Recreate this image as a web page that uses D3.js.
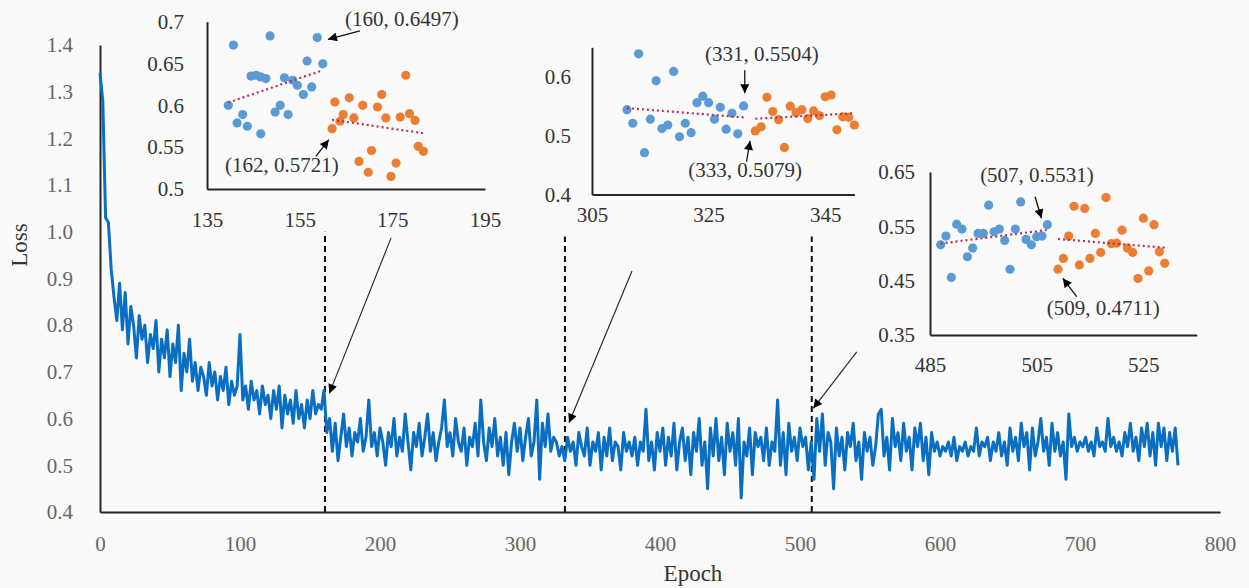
<!DOCTYPE html>
<html>
<head>
<meta charset="utf-8">
<script src="https://cdn.jsdelivr.net/npm/d3@7"></script>
<style>
  html, body { margin: 0; padding: 0; background: #fafafa; }
  svg { display: block; }
  text { font-family: "Liberation Serif", "Times New Roman", serif; }
</style>
</head>
<body>
<svg id="chart" width="1249" height="588"></svg>
<script>
// ---------------- DATA ----------------
// Main training loss, one value every 2 epochs (epoch 0 .. 770)
const lossStep = 2;
const lossValues = [
  1.34, 1.28, 1.03, 1.02, 0.92, 0.86, 0.81, 0.89, 0.79, 0.87,
  0.76, 0.84, 0.80, 0.73, 0.82, 0.77, 0.80, 0.72, 0.78, 0.75,
  0.81, 0.70, 0.77, 0.73, 0.79, 0.69, 0.76, 0.72, 0.80, 0.66,
  0.74, 0.70, 0.77, 0.68, 0.72, 0.66, 0.71, 0.69, 0.65, 0.72,
  0.67, 0.70, 0.64, 0.69, 0.66, 0.71, 0.63, 0.68, 0.65, 0.67,
  0.78, 0.64, 0.67, 0.62, 0.68, 0.64, 0.66, 0.61, 0.67, 0.63,
  0.65, 0.60, 0.66, 0.62, 0.67, 0.58, 0.65, 0.61, 0.64, 0.59,
  0.66, 0.60, 0.63, 0.58, 0.64, 0.60, 0.66, 0.61, 0.63, 0.62,
  0.66,
  0.57, 0.60, 0.53, 0.59, 0.51, 0.56, 0.61, 0.54, 0.58, 0.52,
  0.57, 0.55, 0.60, 0.53, 0.56, 0.64, 0.54, 0.57, 0.52, 0.58,
  0.55, 0.50, 0.57, 0.54, 0.60, 0.52, 0.56, 0.53, 0.61, 0.55,
  0.49, 0.57, 0.54, 0.59, 0.52, 0.56, 0.61, 0.53, 0.57, 0.51,
  0.55, 0.58, 0.64, 0.54, 0.57, 0.52, 0.60, 0.55, 0.53, 0.58,
  0.50, 0.56, 0.54, 0.59, 0.52, 0.64, 0.55, 0.51, 0.58, 0.54,
  0.60, 0.52, 0.56, 0.50, 0.57, 0.48, 0.55, 0.59, 0.53, 0.58,
  0.51, 0.56, 0.60, 0.52, 0.55, 0.64, 0.47, 0.59, 0.54, 0.61,
  0.53, 0.56, 0.55, 0.52, 0.54,
  0.51, 0.56, 0.53, 0.55, 0.50, 0.57, 0.54, 0.52, 0.58, 0.50,
  0.55, 0.53, 0.57, 0.49, 0.56, 0.52, 0.58, 0.51, 0.55, 0.54,
  0.49, 0.57, 0.53, 0.55, 0.52, 0.56, 0.50, 0.55, 0.53, 0.62,
  0.51, 0.55, 0.49, 0.57, 0.53, 0.58, 0.50, 0.56, 0.52, 0.59,
  0.49, 0.55, 0.58, 0.51, 0.56, 0.48, 0.57, 0.53, 0.60, 0.50,
  0.55, 0.45, 0.58, 0.52, 0.60, 0.51, 0.56, 0.48, 0.59, 0.53,
  0.57, 0.50, 0.60, 0.43, 0.55, 0.52, 0.58, 0.48, 0.57, 0.54,
  0.56, 0.51, 0.58, 0.50, 0.55, 0.53, 0.64, 0.50, 0.57, 0.48,
  0.59, 0.53, 0.56, 0.51, 0.58, 0.54, 0.56, 0.49, 0.55, 0.47,
  0.60, 0.53, 0.61, 0.50, 0.57, 0.55, 0.45, 0.58, 0.52, 0.56,
  0.49, 0.57, 0.54, 0.59, 0.51, 0.55, 0.47, 0.57, 0.53, 0.56,
  0.50, 0.54, 0.61, 0.62, 0.52, 0.56, 0.49, 0.60, 0.54, 0.57,
  0.51, 0.59, 0.53, 0.56, 0.49, 0.58, 0.54, 0.59, 0.51, 0.56,
  0.48, 0.57, 0.53, 0.55, 0.52, 0.54, 0.53, 0.55, 0.52, 0.56,
  0.51, 0.54, 0.53, 0.55, 0.52, 0.54, 0.53, 0.58, 0.52, 0.55,
  0.54, 0.56, 0.51, 0.55, 0.53, 0.57, 0.52, 0.55, 0.50, 0.58,
  0.53, 0.56, 0.51, 0.59, 0.54, 0.57, 0.49, 0.58, 0.52, 0.55,
  0.60, 0.53, 0.56, 0.50, 0.59, 0.53, 0.57, 0.52, 0.55, 0.47,
  0.61, 0.54, 0.56, 0.53, 0.55, 0.54, 0.56, 0.53, 0.55, 0.52,
  0.58, 0.54, 0.55, 0.53, 0.60, 0.54, 0.56, 0.53, 0.55, 0.52,
  0.57, 0.54, 0.59, 0.53, 0.56, 0.51, 0.58, 0.54, 0.59, 0.52,
  0.57, 0.50, 0.59, 0.54, 0.58, 0.51, 0.57, 0.53, 0.58, 0.50
];
const mainXTicks = [0, 100, 200, 300, 400, 500, 600, 700, 800];
const mainYTicks = ["0.4", "0.5", "0.6", "0.7", "0.8", "0.9", "1.0", "1.1", "1.2", "1.3", "1.4"];
const markerEpochs = [160.7, 332.1, 508.4];
const markerTops = [1.0, 0.99, 0.99];
// main-chart arrows: [fromEpoch, fromLoss, toEpoch, toLoss]
const mainArrows = [
  [207.9, 0.987, 163.8, 0.654],
  [380.0, 0.916, 335.0, 0.591],
  [540.5, 0.743, 509.5, 0.622]
];

// Inset 1 (epochs 135-195)
const inset1XTicks = ["135", "155", "175", "195"];
const inset1YTicks = ["0.5", "0.55", "0.6", "0.65", "0.7"];
const inset1Blue = [[139.6,0.600],[140.7,0.672],[141.5,0.579],[142.7,0.589],[143.7,0.575],[144.5,0.635],[145.6,0.636],[146.6,0.566],[146.6,0.634],[147.7,0.632],[148.6,0.683],[149.7,0.592],[150.8,0.600],[151.7,0.633],[152.5,0.589],[153.5,0.630],[154.5,0.624],[155.8,0.613],[156.6,0.653],[157.6,0.622],[158.8,0.681],[160,0.6497]];
const inset1Orange = [[162,0.5721],[162.6,0.604],[163.7,0.581],[164.4,0.589],[165.7,0.609],[166.7,0.585],[167.8,0.533],[168.6,0.600],[169.8,0.520],[170.5,0.546],[171.8,0.598],[172.7,0.613],[173.6,0.585],[174.7,0.515],[175.8,0.531],[176.7,0.586],[177.9,0.636],[178.7,0.590],[179.9,0.582],[180.6,0.551],[181.7,0.545]];
const inset1Labels = [
  { text: "(160, 0.6497)", at: [164.8, 0.704], arrow: [168.0, 0.689, 161.1, 0.679] },
  { text: "(162, 0.5721)", at: [138.9, 0.529], arrow: [158.5, 0.539, 161.3, 0.559] }
];

// Inset 2 (epochs 305-350)
const inset2XTicks = ["305", "325", "345"];
const inset2YTicks = ["0.4", "0.5", "0.6"];
const inset2Blue = [[311,0.544],[312,0.521],[313,0.639],[314,0.471],[315,0.528],[316,0.593],[317,0.512],[318,0.518],[319,0.609],[320,0.498],[321,0.521],[322,0.505],[323,0.556],[324,0.567],[325,0.556],[326,0.528],[327,0.548],[328,0.511],[329,0.538],[330,0.503],[331,0.5504]];
const inset2Orange = [[333,0.5079],[334,0.515],[335,0.565],[336,0.541],[337,0.527],[338,0.480],[339,0.550],[340,0.539],[341,0.544],[342,0.529],[343,0.542],[344,0.534],[345,0.566],[346,0.569],[347,0.510],[348,0.532],[349,0.531],[350,0.518]];
const inset2Labels = [
  { text: "(331, 0.5504)", at: [324.4, 0.640], arrow: [331.2, 0.611, 331.2, 0.572] },
  { text: "(333, 0.5079)", at: [321.5, 0.442], arrow: [331.5, 0.456, 332.1, 0.491] }
];

// Inset 3 (epochs 485-535)
const inset3XTicks = ["485", "505", "525"];
const inset3YTicks = ["0.35", "0.45", "0.55", "0.65"];
const inset3Blue = [[487,0.516],[488,0.532],[489,0.456],[490,0.554],[491,0.545],[492,0.494],[493,0.510],[494,0.537],[495,0.537],[496,0.589],[497,0.540],[498,0.545],[499,0.524],[500,0.471],[501,0.545],[502,0.595],[503,0.526],[504,0.516],[505,0.531],[506,0.532],[507,0.5531]];
const inset3Orange = [[509,0.4711],[510,0.491],[511,0.532],[512,0.587],[513,0.479],[514,0.583],[515,0.491],[516,0.537],[517,0.502],[518,0.603],[519,0.518],[520,0.519],[521,0.543],[522,0.510],[523,0.502],[524,0.454],[525,0.565],[526,0.468],[527,0.553],[528,0.503],[529,0.482]];
const inset3Labels = [
  { text: "(507, 0.5531)", at: [494.4, 0.6445], arrow: [504.7, 0.6045, 505.9, 0.5648] },
  { text: "(509, 0.4711)", at: [506.9, 0.3997], arrow: [512.5, 0.4205, 509.9, 0.4544] }
];

// ---------------- DRAW ----------------
const svg = d3.select("#chart");
const BLUE = "#5b9bd5", ORANGE = "#ed7d31", LINE = "#0a6fc2", TREND = "#b8304f";

svg.append("defs").append("marker")
  .attr("id", "head").attr("viewBox", "0 0 10 10")
  .attr("refX", 10).attr("refY", 5)
  .attr("markerWidth", 11).attr("markerHeight", 9)
  .attr("markerUnits", "userSpaceOnUse")
  .attr("orient", "auto")
  .append("path").attr("d", "M0,0 L10,5 L0,10 Z").attr("fill", "#000");

// main chart
const x = d3.scaleLinear().domain([0, 800]).range([100, 1220]);
const y = d3.scaleLinear().domain([0.4, 1.4]).range([512, 45]);

function styleAxis(g, color, size) {
  g.select(".domain").attr("stroke", "#262626").attr("stroke-width", 2);
  g.selectAll(".tick line").remove();
  g.selectAll("text").attr("fill", color).attr("font-size", size)
    .attr("font-family", "Liberation Serif, serif");
}

svg.append("g").attr("transform", "translate(0,512)")
  .call(d3.axisBottom(x).tickValues(mainXTicks).tickFormat(d3.format("d")).tickSize(0).tickSizeOuter(0).tickPadding(24))
  .call(g => styleAxis(g, "#666", 21));
svg.append("g").attr("transform", "translate(100,0)")
  .call(d3.axisLeft(y).tickValues(mainYTicks.map(Number)).tickFormat((d, i) => mainYTicks[i]).tickSize(0).tickSizeOuter(0).tickPadding(27))
  .call(g => styleAxis(g, "#666", 21));

svg.append("text").attr("x", 693).attr("y", 581).attr("text-anchor", "middle")
  .attr("font-size", 23).attr("fill", "#333").text("Epoch");
svg.append("text").attr("transform", "translate(27,245) rotate(-90)").attr("text-anchor", "middle")
  .attr("font-size", 23).attr("fill", "#333").text("Loss");

// dashed markers
svg.selectAll(".vdash").data(markerEpochs).join("line")
  .attr("x1", d => x(d)).attr("x2", d => x(d))
  .attr("y1", y(0.4)).attr("y2", (d, i) => y(markerTops[i]))
  .attr("stroke", "#111").attr("stroke-width", 2).attr("stroke-dasharray", "6,4");

// loss line
const line = d3.line().x((d, i) => x(i * lossStep)).y(d => y(d));
svg.append("path").datum(lossValues).attr("d", line)
  .attr("fill", "none").attr("stroke", LINE).attr("stroke-width", 3)
  .attr("stroke-linejoin", "round");

// main arrows
svg.selectAll(".marrow").data(mainArrows).join("line")
  .attr("x1", d => x(d[0])).attr("y1", d => y(d[1]))
  .attr("x2", d => x(d[2])).attr("y2", d => y(d[3]))
  .attr("stroke", "#222").attr("stroke-width", 1.1).attr("marker-end", "url(#head)");

// insets
function fit(pts) {
  const mx = d3.mean(pts, d => d[0]), my = d3.mean(pts, d => d[1]);
  const b = d3.sum(pts, d => (d[0] - mx) * (d[1] - my)) / d3.sum(pts, d => (d[0] - mx) ** 2);
  const a = my - b * mx;
  const x0 = d3.min(pts, d => d[0]), x1 = d3.max(pts, d => d[0]);
  return [[x0, a + b * x0], [x1, a + b * x1]];
}

function inset(cfg) {
  const g = svg.append("g");
  const sx = d3.scaleLinear().domain(cfg.xd).range(cfg.xr);
  const sy = d3.scaleLinear().domain(cfg.yd).range(cfg.yr);
  g.append("g").attr("transform", `translate(0,${cfg.yr[0]})`)
    .call(d3.axisBottom(sx).tickValues(cfg.xt.map(Number)).tickFormat((d, i) => cfg.xt[i]).tickSize(0).tickSizeOuter(0).tickPadding(cfg.xpad))
    .call(a => styleAxis(a, "#333", 21));
  g.append("g").attr("transform", `translate(${cfg.xr[0]},0)`)
    .call(d3.axisLeft(sy).tickValues(cfg.yt.map(Number)).tickFormat((d, i) => cfg.yt[i]).tickSize(0).tickSizeOuter(0).tickPadding(cfg.ypad))
    .call(a => styleAxis(a, "#333", 21));

  [[cfg.blue, BLUE], [cfg.orange, ORANGE]].forEach(([pts, col]) => {
    g.append("g").selectAll("circle").data(pts).join("circle")
      .attr("cx", d => sx(d[0])).attr("cy", d => sy(d[1])).attr("r", 4.6)
      .attr("fill", col);
  });
  [cfg.blue, cfg.orange].forEach(pts => {
    const t = fit(pts);
    g.append("line")
      .attr("x1", sx(t[0][0])).attr("y1", sy(t[0][1]))
      .attr("x2", sx(t[1][0])).attr("y2", sy(t[1][1]))
      .attr("stroke", TREND).attr("stroke-width", 2.2).attr("stroke-dasharray", "2,3");
  });
  cfg.labels.forEach(l => {
    g.append("text").attr("x", sx(l.at[0])).attr("y", sy(l.at[1])).attr("dy", "0.35em")
      .attr("font-size", 21).attr("fill", "#333").text(l.text);
    g.append("line")
      .attr("x1", sx(l.arrow[0])).attr("y1", sy(l.arrow[1]))
      .attr("x2", sx(l.arrow[2])).attr("y2", sy(l.arrow[3]))
      .attr("stroke", "#111").attr("stroke-width", 1.3).attr("marker-end", "url(#head)");
  });
}

inset({ xd: [135, 195], xr: [207, 485], yd: [0.5, 0.7], yr: [189, 21.7],
  xt: inset1XTicks, yt: inset1YTicks, xpad: 23, ypad: 23,
  blue: inset1Blue, orange: inset1Orange, labels: inset1Labels });
inset({ xd: [305, 350], xr: [592, 854.4], yd: [0.4, 0.65], yr: [194.5, 47.3],
  xt: inset2XTicks, yt: inset2YTicks, xpad: 13, ypad: 21,
  blue: inset2Blue, orange: inset2Orange, labels: inset2Labels });
inset({ xd: [485, 535], xr: [930, 1196.7], yd: [0.35, 0.65], yr: [335, 172],
  xt: inset3XTicks, yt: inset3YTicks, xpad: 22, ypad: 15,
  blue: inset3Blue, orange: inset3Orange, labels: inset3Labels });
</script>
</body>
</html>
